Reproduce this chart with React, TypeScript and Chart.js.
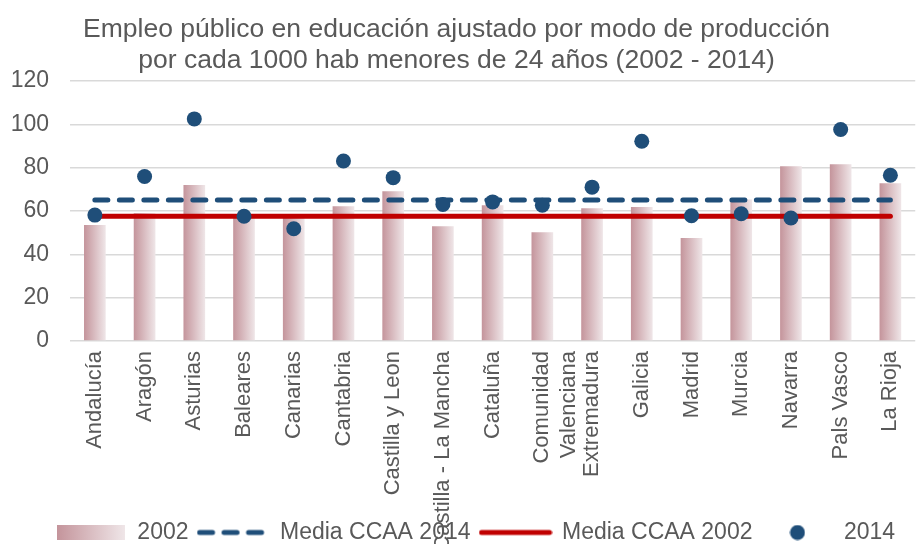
import React, { useEffect, useRef } from "react";
import { Chart, registerables } from "chart.js";

Chart.register(...registerables);

const categories: (string | string[])[] = [
  "Andalucía", "Aragón", "Asturias", "Baleares", "Canarias", "Cantabria",
  "Castilla y Leon", "Castilla - La Mancha", "Cataluña", ["Comunidad", "Valenciana"],
  "Extremadura", "Galicia", "Madrid", "Murcia", "Navarra", "Pals Vasco", "La Rioja",
];
const values2002 = [53.5, 59, 72, 58, 57, 62.2, 69.1, 53, 62.7, 50.2, 61.3, 61.8, 47.5, 65.3, 80.6, 81.6, 72.8];
const values2014 = [58.1, 75.9, 102.5, 57.6, 51.8, 83.1, 75.4, 63, 64.2, 62.7, 71, 92.2, 57.8, 58.7, 56.8, 97.6, 76.5];
const media2014 = 65.1;
const media2002 = 57.6;
const yTicks = [0, 20, 40, 60, 80, 100, 120];
const titleLines = [
  "Empleo público en educación ajustado por modo de producción",
  "por cada 1000 hab menores de 24 años (2002 - 2014)",
];
const legendLabels = ["2002", "Media CCAA 2014", "Media CCAA 2002", "2014"];

const TEXT = "#595959";
const BLUE = "#1f4e79";
const RED = "#c00000";
const BAR_L = "#c4949b";
const BAR_R = "#efe6e8";
const GRID = "#d9d9d9";
const BAR_PCT = 0.436;
const FONT = "'Liberation Sans', Arial, sans-serif";

function makeCanvas(w: number, h: number, draw: (c: CanvasRenderingContext2D) => void) {
  const cv = document.createElement("canvas");
  cv.width = w;
  cv.height = h;
  const c = cv.getContext("2d")!;
  draw(c);
  return cv;
}

const layoutTweaks = {
  id: "layoutTweaks",
  afterLayout(chart: any) {
    // let rotated category labels run to the bottom edge, as in the original
    if (chart.scales.x) chart.scales.x.bottom = chart.height;
    if (chart.legend) {
      chart.legend.left += 12;
      chart.legend.right += 12;
    }
    if (chart.titleBlock) {
      chart.titleBlock.left -= 7;
      chart.titleBlock.right -= 7;
    }
  },
};

export default function App() {
  const ref = useRef<HTMLCanvasElement | null>(null);

  useEffect(() => {
    if (!ref.current) return;

    const legBar = makeCanvas(68, 15, (c) => {
      const g = c.createLinearGradient(0, 0, 68, 0);
      g.addColorStop(0, BAR_L);
      g.addColorStop(1, BAR_R);
      c.fillStyle = g;
      c.fillRect(0, 0, 68, 15);
    });
    const legDash = makeCanvas(74, 8, (c) => {
      c.strokeStyle = BLUE;
      c.lineWidth = 5;
      c.lineCap = "round";
      c.setLineDash([13, 11.5]);
      c.beginPath();
      c.moveTo(3, 4);
      c.lineTo(71, 4);
      c.stroke();
    });
    const legRed = makeCanvas(74, 8, (c) => {
      c.strokeStyle = RED;
      c.lineWidth = 5;
      c.lineCap = "round";
      c.beginPath();
      c.moveTo(3, 4);
      c.lineTo(71, 4);
      c.stroke();
    });
    const legDot = makeCanvas(16, 16, (c) => {
      c.fillStyle = BLUE;
      c.beginPath();
      c.arc(8, 8, 7.5, 0, Math.PI * 2);
      c.fill();
    });
    const legImgs = [legBar, legDash, legRed, legDot];

    const chart = new Chart(ref.current, {
      type: "bar",
      plugins: [layoutTweaks],
      data: {
        labels: categories as any,
        datasets: [
          {
            type: "bar",
            label: legendLabels[0],
            data: values2002,
            order: 4,
            barPercentage: BAR_PCT,
            categoryPercentage: 1,
            backgroundColor: (ctx: any) => {
              const chart = ctx.chart;
              const xs = chart.scales && chart.scales.x;
              if (!xs || ctx.dataIndex === undefined) return BAR_L;
              const cx = xs.getPixelForValue(ctx.dataIndex);
              const hw = (xs.width / categories.length) * BAR_PCT / 2;
              const g = chart.ctx.createLinearGradient(cx - hw, 0, cx + hw, 0);
              g.addColorStop(0, BAR_L);
              g.addColorStop(1, BAR_R);
              return g;
            },
          } as any,
          {
            type: "line",
            label: legendLabels[1],
            data: categories.map(() => media2014),
            order: 3,
            borderColor: BLUE,
            borderWidth: 5,
            borderDash: [13, 11.5],
            borderCapStyle: "round",
            pointRadius: 0,
            fill: false,
          } as any,
          {
            type: "line",
            label: legendLabels[2],
            data: categories.map(() => media2002),
            order: 2,
            borderColor: RED,
            borderWidth: 5,
            borderCapStyle: "round",
            pointRadius: 0,
            fill: false,
          } as any,
          {
            type: "line",
            label: legendLabels[3],
            data: values2014,
            order: 1,
            showLine: false,
            pointRadius: 7.5,
            pointBorderWidth: 0,
            pointBackgroundColor: BLUE,
            borderColor: BLUE,
            backgroundColor: BLUE,
          } as any,
        ],
      },
      options: {
        responsive: false,
        animation: false,
        layout: { padding: 0 },
        plugins: {
          tooltip: { enabled: false },
          title: {
            display: true,
            text: titleLines,
            color: TEXT,
            font: { family: FONT, size: 26.5, weight: "normal", lineHeight: 1.17 },
            padding: { top: 14, bottom: 5 },
          },
          legend: {
            display: true,
            position: "bottom",
            labels: {
              color: TEXT,
              font: { family: FONT, size: 23 },
              usePointStyle: true,
              pointStyleWidth: 70,
              boxHeight: 23,
              padding: 10,
              generateLabels: () =>
                legendLabels.map((t, i) => ({
                  text: t,
                  pointStyle: legImgs[i] as any,
                  datasetIndex: i,
                  fontColor: TEXT,
                  hidden: false,
                  lineWidth: 0,
                })),
            },
          },
        },
        scales: {
          x: {
            grid: { display: false, drawTicks: false },
            border: { display: false },
            ticks: {
              color: TEXT,
              font: { family: FONT, size: 22 },
              minRotation: 90,
              maxRotation: 90,
              autoSkip: false,
              padding: 10,
            },
            afterFit: (s: any) => {
              s.height = 170;
            },
          },
          y: {
            min: 0,
            max: 120,
            afterBuildTicks: (s: any) => {
              s.ticks = yTicks.map((v) => ({ value: v }));
            },
            grid: { color: GRID, lineWidth: 1.5, drawTicks: false },
            border: { display: false },
            ticks: {
              color: TEXT,
              font: { family: FONT, size: 23 },
              padding: 21,
            },
            afterFit: (s: any) => {
              s.width = 70;
            },
          },
        },
      } as any,
    });
    return () => chart.destroy();
  }, []);

  return (
    <div style={{ position: "fixed", left: 0, top: 0, width: 918, height: 544, overflow: "hidden", background: "#fff" }}>
      <canvas ref={ref} width={927} height={554} style={{ display: "block" }} />
    </div>
  );
}
